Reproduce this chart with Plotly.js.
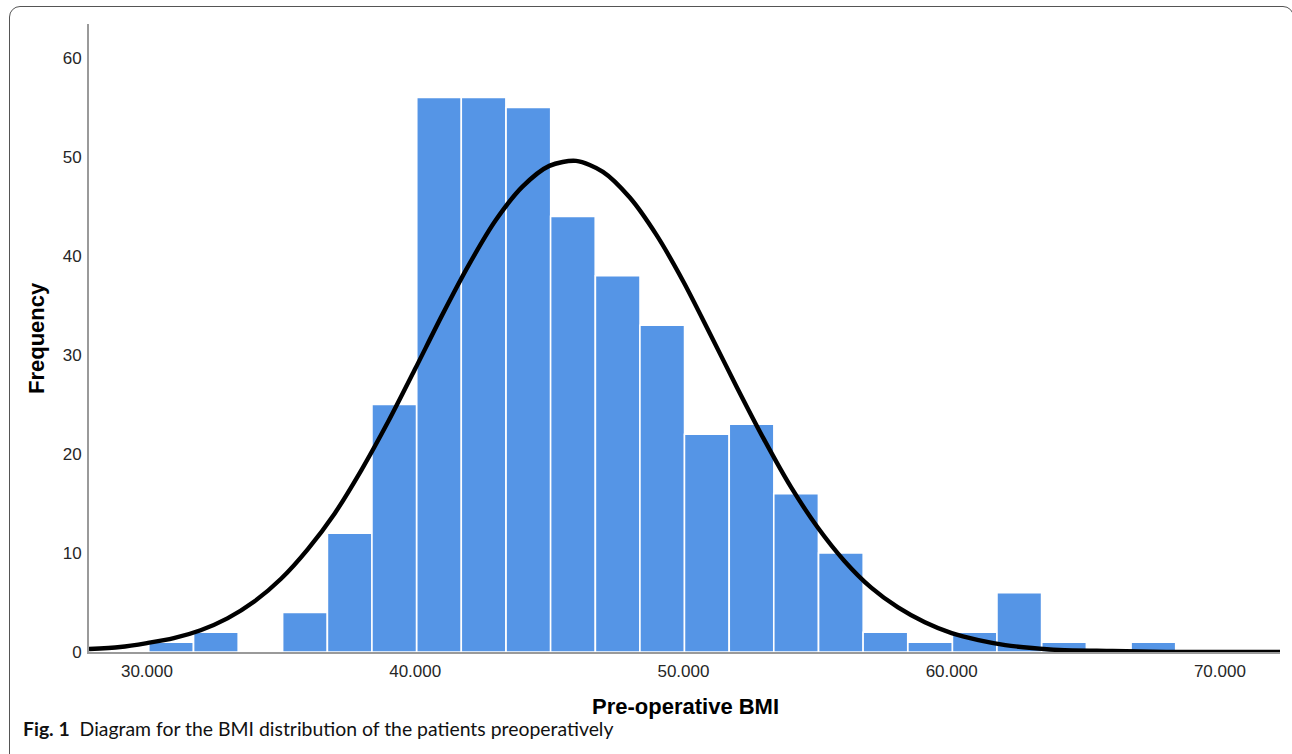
<!DOCTYPE html>
<html>
<head>
<meta charset="utf-8">
<script src="https://cdn.plot.ly/plotly-3.0.1.min.js"></script>
<style>
  html, body { margin: 0; padding: 0; background: #fff; }
  #wrap { position: relative; width: 1292px; height: 754px; overflow: hidden; }
  #chart { width: 1292px; height: 754px; }
  #frame { position: absolute; left: 9px; top: 6px; width: 1285px; height: 820px;
           border: 1.5px solid #555; border-radius: 11px; pointer-events: none; box-sizing: border-box; }
</style>
</head>
<body>
<div id="wrap">
  <div id="chart"></div>
  <div id="frame"></div>
</div>
<script>
// Histogram bins (BMI bin centres) and frequencies
const binCenters = [30.90, 32.57, 34.23, 35.89, 37.56, 39.22, 40.89, 42.55, 44.22, 45.88, 47.55, 49.21,
                    50.87, 52.54, 54.20, 55.87, 57.53, 59.20, 60.86, 62.52, 64.19, 65.85, 67.52];
const frequencies = [1, 2, 0, 4, 12, 25, 56, 56, 55, 44, 38, 33, 22, 23, 16, 10, 2, 1, 2, 6, 1, 0, 1];
const binWidth = 1.664;

// Fitted normal curve
const curveX = [27.84, 29, 30, 31, 32, 33, 34, 35, 36, 37, 38, 39, 40, 41, 42, 43, 44, 45, 46,
                47, 48, 49, 50, 51, 52, 53, 54, 55, 56, 57, 58, 59, 60, 61, 62, 63, 64, 66, 68, 70, 72.24];
const curveY = [0.3, 0.5, 0.9, 1.4, 2.2, 3.4, 5.1, 7.4, 10.4, 14.0, 18.4, 23.3, 28.6, 34.0, 39.1, 43.6, 47.0, 49.1, 49.6,
                48.5, 45.9, 42.1, 37.4, 32.1, 26.7, 21.5, 16.7, 12.6, 9.2, 6.5, 4.5, 3.0, 1.9, 1.2, 0.7, 0.4, 0.2, 0.1, 0.0, 0.0, 0.0];

const xTicks = [30, 40, 50, 60, 70];
const yTicks = [0, 10, 20, 30, 40, 50, 60];

const xTitle = 'Pre-operative BMI';
const yTitle = 'Frequency';
const captionBold = 'Fig. 1';
const captionText = 'Diagram for the BMI distribution of the patients preoperatively';

const L = 89, R = 12, T = 24, B = 102;
const W = 1292, H = 754;
const pw = W - L - R, ph = H - T - B;
const px = v => (v - L) / pw;          // pixel x -> paper x
const py = v => (H - B - v) / ph;      // pixel y -> paper y

const traces = [
  {
    type: 'bar',
    x: binCenters,
    y: frequencies,
    width: binWidth,
    marker: { color: '#5595E6', line: { color: '#ffffff', width: 1.6 } },
    hoverinfo: 'x+y'
  },
  {
    type: 'scatter',
    mode: 'lines',
    x: curveX,
    y: curveY,
    line: { color: '#000000', width: 4.4, shape: 'spline', smoothing: 0.8 },
    hoverinfo: 'skip'
  }
];

const tickFont = { family: 'Liberation Sans, Arial, sans-serif', size: 17, color: '#262626' };
const titleFont = { family: 'Liberation Sans, Arial, sans-serif', size: 22, color: '#000' };

const layout = {
  width: W, height: H,
  margin: { l: L, r: R, t: T, b: B, pad: 0 },
  paper_bgcolor: '#ffffff',
  plot_bgcolor: '#ffffff',
  showlegend: false,
  bargap: 0,
  xaxis: {
    range: [27.84, 72.24],
    tickvals: xTicks,
    ticktext: xTicks.map(v => v.toFixed(3)),
    showgrid: false, zeroline: false,
    showline: true, linecolor: '#9a9a9a', linewidth: 2,
    ticks: 'outside', ticklen: 3, tickcolor: 'rgba(0,0,0,0)',
    tickfont: tickFont
  },
  yaxis: {
    range: [0, 63.43],
    tickvals: yTicks,
    showgrid: false, zeroline: false,
    showline: true, linecolor: '#9a9a9a', linewidth: 2,
    ticks: 'outside', ticklen: 2, tickcolor: 'rgba(0,0,0,0)',
    tickfont: tickFont
  },
  annotations: [
    { text: '<b>' + xTitle + '</b>', xref: 'paper', yref: 'paper', x: px(685), y: py(706),
      xanchor: 'center', yanchor: 'middle', showarrow: false, font: titleFont },
    { text: '<b>' + yTitle + '</b>', xref: 'paper', yref: 'paper', x: px(36), y: py(338),
      xanchor: 'center', yanchor: 'middle', showarrow: false, textangle: -90, font: titleFont },
    { text: '<b>' + captionBold + '</b>  ' + captionText, xref: 'paper', yref: 'paper',
      x: px(21), y: py(728), xanchor: 'left', yanchor: 'middle', showarrow: false,
      font: { family: 'Lato, Open Sans, sans-serif', size: 19.4, color: '#111' } }
  ]
};

Plotly.newPlot('chart', traces, layout, { displayModeBar: false, staticPlot: true });
</script>
</body>
</html>
